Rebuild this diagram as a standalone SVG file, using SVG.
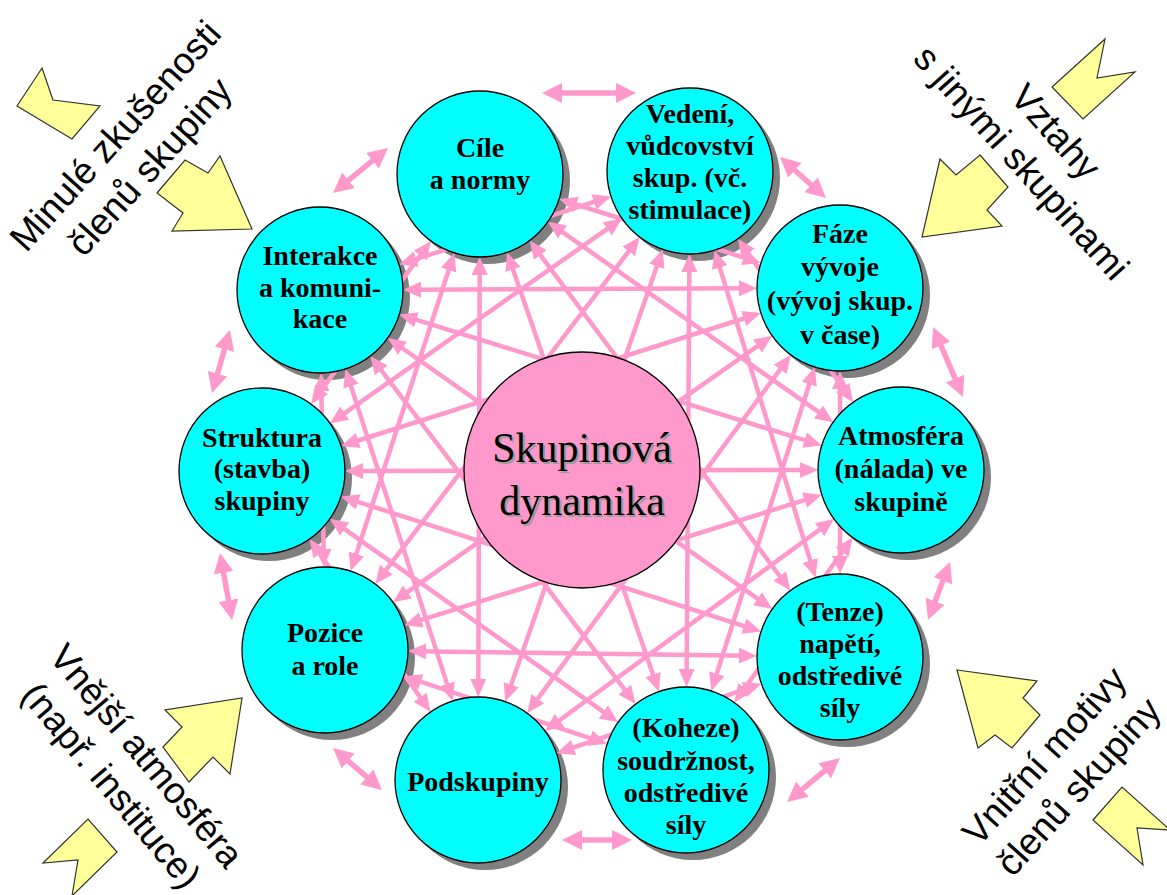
<svg xmlns="http://www.w3.org/2000/svg" width="1167" height="895" viewBox="0 0 1167 895">
<style>
.bg{fill:#ffffff}
.yel{fill:#ffff99;stroke:#333333;stroke-width:1.2;stroke-linejoin:miter}
.corner{font-family:"Liberation Sans",Arial,sans-serif;font-size:37px;fill:#000000;text-anchor:middle}
.shadow{fill:#808080}
.node{fill:#00ffff;stroke:#000000;stroke-width:1.3}
.lbl{font-family:"Liberation Serif","Times New Roman",serif;font-size:28px;font-weight:bold;fill:#000000;text-anchor:middle}
.mesh line{stroke:#ff99cc;stroke-width:4.5;marker-start:url(#mh);marker-end:url(#mh)}
.outer line{stroke:#ff99cc;stroke-width:5.5;marker-start:url(#oh);marker-end:url(#oh)}
.center{fill:#ff99cc;stroke:#000000;stroke-width:1.3}
.ctext{font-family:"Liberation Serif","Times New Roman",serif;font-size:42px;text-anchor:middle}
</style>
<defs>
<marker id="mh" viewBox="0 0 18 16" refX="10" refY="8" markerWidth="18" markerHeight="16" markerUnits="userSpaceOnUse" orient="auto-start-reverse"><path d="M0,0 L18,8 L0,16 z" fill="#ff99cc"/></marker>
<marker id="oh" viewBox="0 0 20 20" refX="12" refY="10" markerWidth="20" markerHeight="20" markerUnits="userSpaceOnUse" orient="auto-start-reverse"><path d="M0,0 L20,10 L0,20 z" fill="#ff99cc"/></marker>
</defs>
<rect class="bg" x="0" y="0" width="1167" height="895"/>

<g id="influence-shapes">
<polygon class="yel" points="17,106 42,68 53,100 100,106 72,139"/>
<polygon class="yel" points="157,193 185,160 208,173 220,156 252,229 172,231 183,213"/>
<polygon class="yel" points="1052,87 1105,39 1097,78 1135,72 1083,119"/>
<polygon class="yel" points="980,155 1008,187 987,210 1002,226 922,237 940,159 956,175"/>
<polygon class="yel" points="163,747 182,727 165,710 242,698 230,774 213,757 189,782"/>
<polygon class="yel" points="43,863 88,819 117,852 72,896 78,860"/>
<polygon class="yel" points="957,670 1037,681 1023,698 1040,715 1012,748 995,735 978,748"/>
<polygon class="yel" points="1093,820 1122,787 1170,830 1137,828 1143,865"/>
</g>

<g id="corner-texts">
<text class="corner" transform="translate(141,159) rotate(-48)"><tspan x="0" y="-22">Minulé zkušenosti</tspan><tspan x="0" y="24">členů skupiny</tspan></text>
<text class="corner" transform="translate(1030,155) rotate(48)"><tspan x="0" y="-22">Vztahy</tspan><tspan x="0" y="24">s jinými skupinami</tspan></text>
<text class="corner" transform="translate(120,778) rotate(50)"><tspan x="0" y="-22">Vnější atmosféra</tspan><tspan x="0" y="24">(např. instituce)</tspan></text>
<text class="corner" transform="translate(1070,779) rotate(-48)"><tspan x="0" y="-22">Vnitřní motivy</tspan><tspan x="0" y="24">členů skupiny</tspan></text>
</g>

<g id="shadows">
<circle class="shadow" cx="487" cy="181" r="83"/>
<circle class="shadow" cx="697" cy="178" r="83"/>
<circle class="shadow" cx="847" cy="295" r="83"/>
<circle class="shadow" cx="908" cy="477" r="83"/>
<circle class="shadow" cx="847" cy="664" r="83"/>
<circle class="shadow" cx="693" cy="777" r="83"/>
<circle class="shadow" cx="485" cy="787" r="83"/>
<circle class="shadow" cx="332" cy="657" r="83"/>
<circle class="shadow" cx="269" cy="478" r="83"/>
<circle class="shadow" cx="327" cy="297" r="83"/>
</g>

<g id="connectors">
<g class="outer">
<line x1="550" y1="93" x2="628" y2="93"/>
<line x1="786" y1="162.3" x2="820" y2="192.7"/>
<line x1="936.2" y1="334.4" x2="959.8" y2="389.6"/>
<line x1="947.2" y1="569.5" x2="930.8" y2="612.5"/>
<line x1="833.8" y1="763.1" x2="793.2" y2="796.9"/>
<line x1="624" y1="840" x2="570" y2="840"/>
<line x1="375.9" y1="784.8" x2="339.1" y2="753.2"/>
<line x1="230.6" y1="612.1" x2="221.4" y2="560.9"/>
<line x1="214.2" y1="385.3" x2="227.8" y2="337.7"/>
<line x1="339.2" y1="187.9" x2="381.8" y2="153.1"/>
</g>
<g class="mesh">
<line x1="566.8" y1="201.5" x2="753.2" y2="260.5"/>
<line x1="554.4" y1="226.3" x2="826.6" y2="417.7"/>
<line x1="534.4" y1="247" x2="785.6" y2="584"/>
<line x1="509.7" y1="260" x2="656.3" y2="684"/>
<line x1="479.7" y1="265" x2="478.3" y2="689"/>
<line x1="451.8" y1="260.5" x2="353.2" y2="563.5"/>
<line x1="426.2" y1="247.4" x2="315.8" y2="397.6"/>
<line x1="742.5" y1="245.3" x2="848.5" y2="395.7"/>
<line x1="716.8" y1="258" x2="813.2" y2="570"/>
<line x1="689.4" y1="262" x2="686.6" y2="679"/>
<line x1="660.1" y1="256.9" x2="507.9" y2="694.1"/>
<line x1="634.8" y1="243.4" x2="380.2" y2="577.6"/>
<line x1="615.5" y1="223.2" x2="336.5" y2="418.8"/>
<line x1="603.4" y1="198.9" x2="406.6" y2="262.1"/>
<line x1="840" y1="379" x2="840" y2="566"/>
<line x1="812.3" y1="374.7" x2="713.7" y2="683.3"/>
<line x1="786.1" y1="361.3" x2="531.9" y2="706.7"/>
<line x1="765.6" y1="340.3" x2="399.4" y2="597.7"/>
<line x1="753.2" y1="315.5" x2="348.8" y2="443.5"/>
<line x1="749" y1="288.3" x2="411" y2="289.7"/>
<line x1="848" y1="544" x2="739" y2="696"/>
<line x1="827.6" y1="523.8" x2="551.4" y2="726.2"/>
<line x1="814.1" y1="497.1" x2="411.9" y2="622.9"/>
<line x1="810" y1="470" x2="353" y2="471"/>
<line x1="814.1" y1="443.1" x2="406.9" y2="316.9"/>
<line x1="753.8" y1="686.3" x2="564.2" y2="750.7"/>
<line x1="749" y1="655.8" x2="416" y2="651.2"/>
<line x1="753.4" y1="629.1" x2="348.6" y2="498.9"/>
<line x1="765.7" y1="604.5" x2="394.3" y2="342.5"/>
<line x1="599.6" y1="741.3" x2="411.4" y2="678.7"/>
<line x1="611.6" y1="717.6" x2="336.4" y2="523.4"/>
<line x1="630.8" y1="697.6" x2="375.2" y2="362.4"/>
<line x1="425.9" y1="705.4" x2="314.1" y2="545.6"/>
<line x1="450.1" y1="693.4" x2="347.9" y2="376.6"/>
<line x1="323.7" y1="559" x2="321.3" y2="381"/>
</g>
</g>

<g id="node-cile"><circle class="node" cx="480" cy="174" r="83"/><text class="lbl"><tspan x="480" y="157">Cíle</tspan><tspan x="480" y="189">a normy</tspan></text></g>
<g id="node-vedeni"><circle class="node" cx="690" cy="171" r="83"/><text class="lbl"><tspan x="690" y="123">Vedení,</tspan><tspan x="690" y="155">vůdcovství</tspan><tspan x="690" y="187">skup. (vč.</tspan><tspan x="690" y="219">stimulace)</tspan></text></g>
<g id="node-faze"><circle class="node" cx="840" cy="288" r="83"/><text class="lbl"><tspan x="840" y="243">Fáze</tspan><tspan x="840" y="276">vývoje</tspan><tspan x="840" y="310">(vývoj skup.</tspan><tspan x="840" y="344">v čase)</tspan></text></g>
<g id="node-atmosfera"><circle class="node" cx="901" cy="470" r="83"/><text class="lbl"><tspan x="901" y="445">Atmosféra</tspan><tspan x="901" y="478">(nálada) ve</tspan><tspan x="901" y="511">skupině</tspan></text></g>
<g id="node-tenze"><circle class="node" cx="840" cy="657" r="83"/><text class="lbl"><tspan x="840" y="621">(Tenze)</tspan><tspan x="840" y="653">napětí,</tspan><tspan x="840" y="685">odstředivé</tspan><tspan x="840" y="717">síly</tspan></text></g>
<g id="node-koheze"><circle class="node" cx="686" cy="770" r="83"/><text class="lbl"><tspan x="686" y="737">(Koheze)</tspan><tspan x="686" y="770">soudržnost,</tspan><tspan x="686" y="802">odstředivé</tspan><tspan x="686" y="834">síly</tspan></text></g>
<g id="node-podskupiny"><circle class="node" cx="478" cy="780" r="83"/><text class="lbl"><tspan x="478" y="791">Podskupiny</tspan></text></g>
<g id="node-pozice"><circle class="node" cx="325" cy="650" r="83"/><text class="lbl"><tspan x="325" y="642">Pozice</tspan><tspan x="325" y="675">a role</tspan></text></g>
<g id="node-struktura"><circle class="node" cx="262" cy="471" r="83"/><text class="lbl"><tspan x="262" y="447">Struktura</tspan><tspan x="262" y="478">(stavba)</tspan><tspan x="262" y="510">skupiny</tspan></text></g>
<g id="node-interakce"><circle class="node" cx="320" cy="290" r="83"/><text class="lbl"><tspan x="320" y="265">Interakce</tspan><tspan x="320" y="297">a komuni-</tspan><tspan x="320" y="328">kace</tspan></text></g>

<g id="node-center">
<circle class="center" cx="582" cy="470" r="118"/>
<text class="ctext" fill="#9a9a9a"><tspan x="584" y="464">Skupinová</tspan><tspan x="584" y="517">dynamika</tspan></text>
<text class="ctext" fill="#000000"><tspan x="582" y="462">Skupinová</tspan><tspan x="582" y="515">dynamika</tspan></text>
</g>
</svg>
